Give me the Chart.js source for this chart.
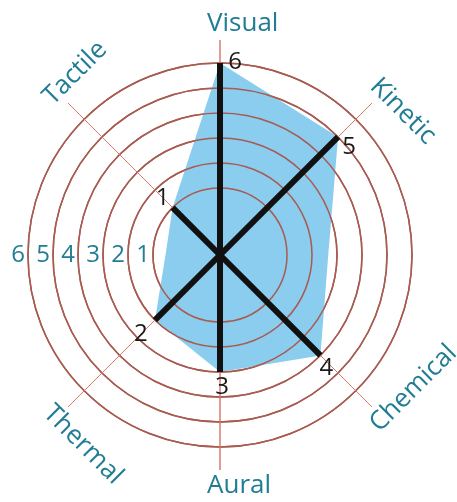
<!DOCTYPE html>
<html>
<head>
<meta charset="utf-8">
<title>Senses</title>
<script src="https://cdn.jsdelivr.net/npm/chart.js@4.4.1/dist/chart.umd.min.js"></script>
<style>
    html, body { margin: 0; padding: 0; background: #fff; }
    .chart-box { width: 457px; height: 502px; }
</style>
</head>
<body>
<div class="chart-box"><canvas id="senses-chart"></canvas></div>
<script>
// start: Data
const axisLabels = ['Visual', 'Kinetic', '', 'Chemical', 'Aural', 'Thermal', '', 'Tactile'];
const senseValues = [6, 5, null, 4, 3, 2, null, 1];
const areaValues = [6, 5, 2.65, 4, 3, 2, 0.5, 1];
const ringTicks = [1, 2, 3, 4, 5, 6];
// end: Data

const scaleMin = -1.68;
const scaleMax = 6.92;
const tickAxis = 6; // the empty west axis carries the ring numbers
const tipOffsets = [[15, -1], [11, 10], null, [6, 13], [2, 15], [-14, 14], null, [-10, -9]];
const teal = '#217d94';

const areaSet = {
    data: areaValues,
    backgroundColor: '#8acdef',
    borderWidth: 0,
    fill: 'start',
    pointRadius: 0,
    order: 2
};

// one dataset per spoke: the value on its own axis, the centre everywhere else
const spokeSets = [];
senseValues.forEach(function (v, i) {
    if (v === null) return;
    spokeSets.push({
        data: axisLabels.map(function (_, j) { return j === i ? v : scaleMin; }),
        borderColor: '#111',
        borderWidth: 6,
        borderJoinStyle: 'bevel',
        borderCapStyle: 'butt',
        fill: false,
        pointRadius: 0,
        order: 1,
        axisIndex: i
    });
});

// start: Text plugin
const senseText = {
    id: 'senseText',
    afterDatasetDraw: function (chart, args) {
        // rings go over the blue area but under the spokes
        if (args.index === 0) chart.scales.r.drawGrid();
    },
    afterDraw: function (chart) {
        const scale = chart.scales.r;
        const ctx = chart.ctx;
        ctx.save();

        ctx.font = '26px "Open Sans"';
        ctx.fillStyle = teal;
        ctx.textAlign = 'left';
        ctx.textBaseline = 'middle';
        axisLabels.forEach(function (label, i) {
            if (!label) return;
            const p = scale.getPointPosition(i, scale.drawingArea + 16);
            let rot = scale.getIndexAngle(i);
            if (rot > Math.PI / 2 && rot < Math.PI * 1.5) {
                rot -= Math.PI;
            } else if (rot >= Math.PI * 1.5) {
                rot -= Math.PI * 2;
            }
            ctx.save();
            ctx.translate(p.x, p.y);
            ctx.rotate(rot);
            ctx.fillText(label, -13, 0);
            ctx.restore();
        });

        ctx.font = '24px "Open Sans"';
        ctx.textAlign = 'center';
        ringTicks.forEach(function (v) {
            const p = scale.getPointPositionForValue(tickAxis, v + 0.4);
            ctx.fillText(String(v), p.x, p.y);
        });

        ctx.fillStyle = '#1a1a1a';
        spokeSets.forEach(function (ds, k) {
            const pt = chart.getDatasetMeta(k + 1).data[ds.axisIndex];
            const off = tipOffsets[ds.axisIndex];
            ctx.fillText(String(senseValues[ds.axisIndex]), pt.x + off[0], pt.y + off[1]);
        });

        ctx.restore();
    }
};
// end: Text plugin

new Chart(document.getElementById('senses-chart'), {
    type: 'radar',
    data: {
        labels: axisLabels,
        datasets: [areaSet].concat(spokeSets)
    },
    options: {
        responsive: true,
        maintainAspectRatio: false,
        animation: false,
        events: [],
        layout: { padding: { left: 5, right: 22, top: 40, bottom: 32 } },
        plugins: {
            legend: { display: false },
            tooltip: { enabled: false }
        },
        elements: {
            line: { tension: 0 },
            point: { radius: 0 }
        },
        scales: {
            r: {
                min: scaleMin,
                max: scaleMax,
                afterBuildTicks: function (scale) {
                    scale.ticks = ringTicks.map(function (v) { return { value: v }; });
                },
                ticks: { display: false },
                pointLabels: { display: false },
                grid: { circular: true, color: '#a85b50', lineWidth: 1.5 },
                angleLines: {
                    color: function (c) { return axisLabels[c.index] ? '#dc7a6c' : 'transparent'; },
                    lineWidth: 1
                }
            }
        }
    },
    plugins: [senseText]
});
</script>
</body>
</html>
